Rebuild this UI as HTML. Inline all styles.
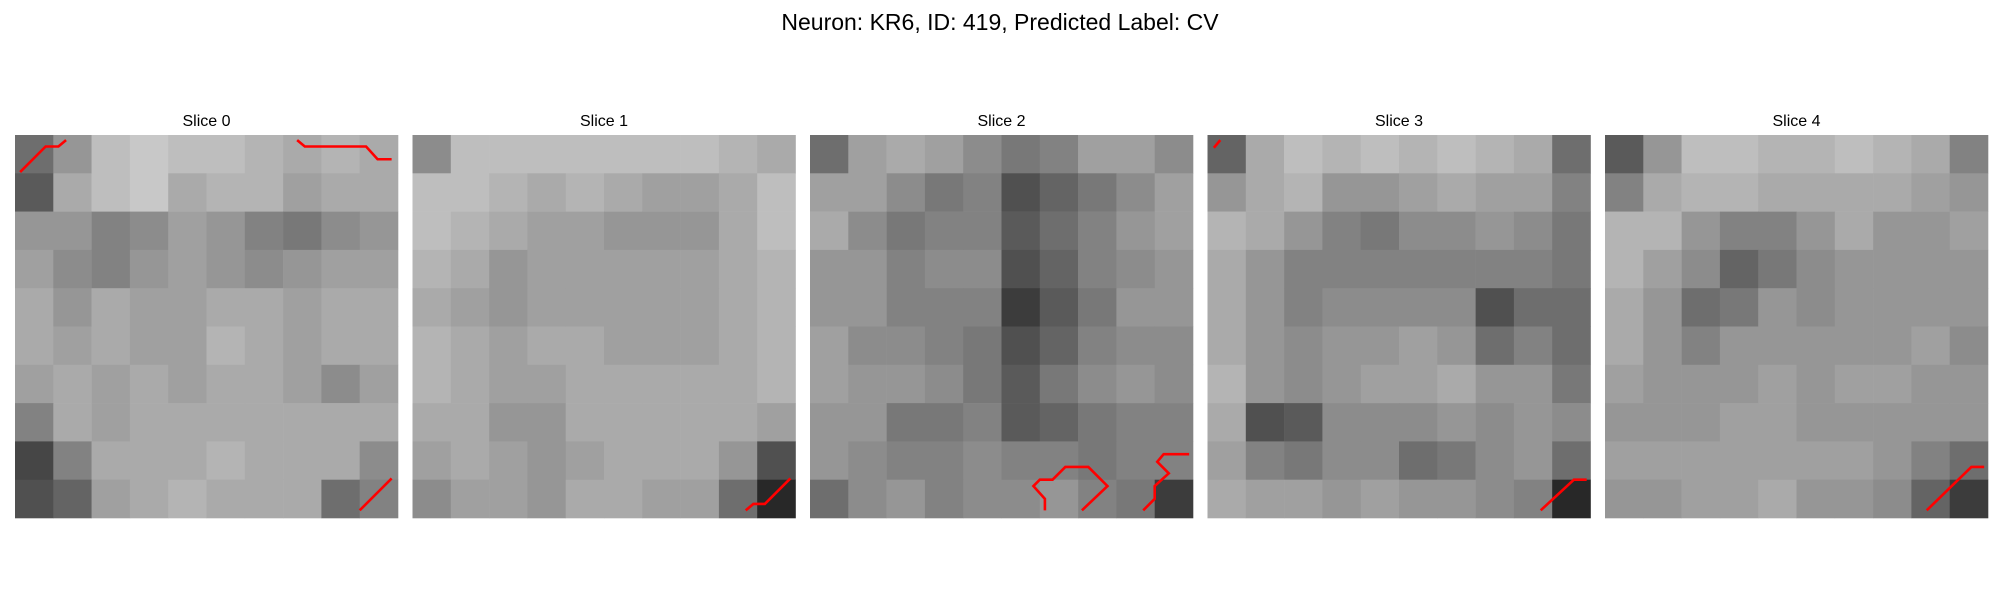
<!DOCTYPE html>
<html><head><meta charset="utf-8"><style>
html,body{margin:0;padding:0;background:#fff;}
body{width:2000px;height:600px;overflow:hidden;font-family:"Liberation Sans","DejaVu Sans",sans-serif;}
</style></head><body>
<svg id="fig" width="2000" height="600" xmlns="http://www.w3.org/2000/svg">
<text x="1000" y="30" text-anchor="middle" font-size="23" font-family="Liberation Sans, DejaVu Sans, sans-serif" fill="#000">Neuron: KR6, ID: 419, Predicted Label: CV</text>
</svg>
<script>
const sliceTitles = ["Slice 0","Slice 1","Slice 2","Slice 3","Slice 4"];
const gridRes = 30;
const slice0 = [
[110,150,190,200,190,190,180,170,180,170],
[90,170,190,200,170,180,180,160,170,170],
[150,150,130,140,160,150,130,120,140,150],
[160,140,130,150,160,150,140,150,160,160],
[170,150,170,160,160,170,170,160,170,170],
[170,160,170,160,160,180,170,160,170,170],
[160,170,160,170,160,170,170,160,140,160],
[130,170,160,170,170,170,170,170,170,170],
[70,130,170,170,170,180,170,170,170,140],
[80,100,160,170,180,170,170,170,110,130]];
const slice1 = [
[140,190,190,190,190,190,190,190,180,170],
[190,190,180,170,180,170,160,160,170,190],
[190,180,170,160,160,150,150,150,170,190],
[180,170,150,160,160,160,160,160,170,180],
[170,160,150,160,160,160,160,160,170,180],
[180,170,160,170,170,160,160,160,170,180],
[180,170,160,160,170,170,170,170,170,180],
[170,170,150,150,170,170,170,170,170,160],
[160,170,160,150,160,170,170,170,150,80],
[140,160,160,150,170,170,160,160,110,40]];
const slice2 = [
[110,160,170,160,140,120,130,160,160,140],
[160,160,140,120,130,80,100,120,140,160],
[170,140,120,130,130,90,110,130,150,160],
[150,150,130,140,140,80,100,130,140,150],
[150,150,130,130,130,60,90,120,150,150],
[160,140,140,130,120,80,100,130,140,140],
[160,150,150,140,120,90,120,140,150,140],
[150,150,120,120,130,90,100,120,130,130],
[150,140,130,130,140,130,130,120,130,130],
[110,140,150,130,140,140,150,130,120,60]];
const slice3 = [
[100,170,190,180,190,180,190,180,170,110],
[150,170,180,150,150,160,170,160,160,130],
[180,170,150,130,120,140,140,150,140,120],
[170,150,130,130,130,130,130,130,130,120],
[170,150,130,140,140,140,140,80,110,110],
[170,150,140,150,150,160,150,110,130,110],
[180,150,140,150,160,160,170,150,150,120],
[170,80,90,140,140,140,150,140,150,140],
[160,130,120,140,140,110,120,140,150,110],
[170,160,160,150,160,150,150,140,130,40]];
const slice4 = [
[90,150,190,190,180,180,190,180,170,130],
[130,170,180,180,170,170,170,170,160,150],
[180,180,150,130,130,150,170,150,150,160],
[180,160,140,100,120,140,150,150,150,150],
[170,150,110,120,150,140,150,150,150,150],
[170,150,130,150,150,150,150,150,160,140],
[160,150,150,150,160,150,160,160,150,150],
[150,150,150,160,160,150,150,150,150,150],
[160,160,160,160,160,160,160,150,130,110],
[150,150,160,160,170,150,150,140,100,60]];
const slices = [slice0,slice1,slice2,slice3,slice4];
// contour lines in image cell units (0..30)
const contours0 = [
 [[0.4,2.9],[2.4,0.9],[3.4,0.9],[4.0,0.4]],
 [[22.1,0.4],[22.7,0.9],[27.5,0.9],[28.4,1.9],[29.5,1.9]],
 [[27.0,29.4],[29.5,26.9]]];
const contours1 = [[[26.1,29.4],[26.7,28.9],[27.6,28.9],[29.6,26.9]]];
const contours2 = [
 [[18.4,29.4],[18.4,28.5],[17.5,27.5],[18.0,27.0],[19.0,27.0],[20.0,26.0],[21.8,26.0],[23.3,27.5],[21.3,29.4]],
 [[26.1,29.4],[27.0,28.5],[27.0,27.5],[28.1,26.5],[27.2,25.6],[27.7,25.0],[29.7,25.0]]];
const contours3 = [[[0.5,1.0],[1.0,0.4]],[[26.1,29.4],[28.7,27.0],[29.7,27.0]]];
const contours4 = [[[25.2,29.4],[28.7,26.0],[29.7,26.0]]];
const contours = [contours0,contours1,contours2,contours3,contours4];

const NS="http://www.w3.org/2000/svg";
const svg=document.getElementById('fig');
const panelX0=15, panelStep=397.5, panelW=383, panelY0=135;
function px(i,v){return panelX0+i*panelStep+v*panelW/gridRes;}
function py(v){return panelY0+v*panelW/gridRes;}
slices.forEach((grid,i)=>{
  const g=document.createElementNS(NS,'g');
  
  
  svg.appendChild(g);
  const t=document.createElementNS(NS,'text');
  
  
  t.setAttribute('x',px(i,gridRes/2));t.setAttribute('y',126);
  t.setAttribute('text-anchor','middle');t.setAttribute('font-size','16');
  t.setAttribute('font-family','Liberation Sans, DejaVu Sans, sans-serif');
  t.textContent=sliceTitles[i];g.appendChild(t);
  const n=grid.length, cs=gridRes/n;
  grid.forEach((row,r)=>row.forEach((v,c)=>{
    const rect=document.createElementNS(NS,'rect');
    
    
    const x0=px(i,c*cs), y0=py(r*cs);
    rect.setAttribute('x',x0);rect.setAttribute('y',y0);
    rect.setAttribute('width',px(i,(c+1)*cs)-x0+0.3);
    rect.setAttribute('height',py((r+1)*cs)-y0+0.3);
    rect.setAttribute('fill','rgb('+v+','+v+','+v+')');
    g.appendChild(rect);
  }));
  contours[i].forEach(line=>{
    const pl=document.createElementNS(NS,'polyline');
    
    
    pl.setAttribute('points',line.map(p=>px(i,p[0])+','+py(p[1])).join(' '));
    pl.setAttribute('fill','none');pl.setAttribute('stroke','#ff0000');
    pl.setAttribute('stroke-width','2.6');
    g.appendChild(pl);
  });
});
</script>
</body></html>
